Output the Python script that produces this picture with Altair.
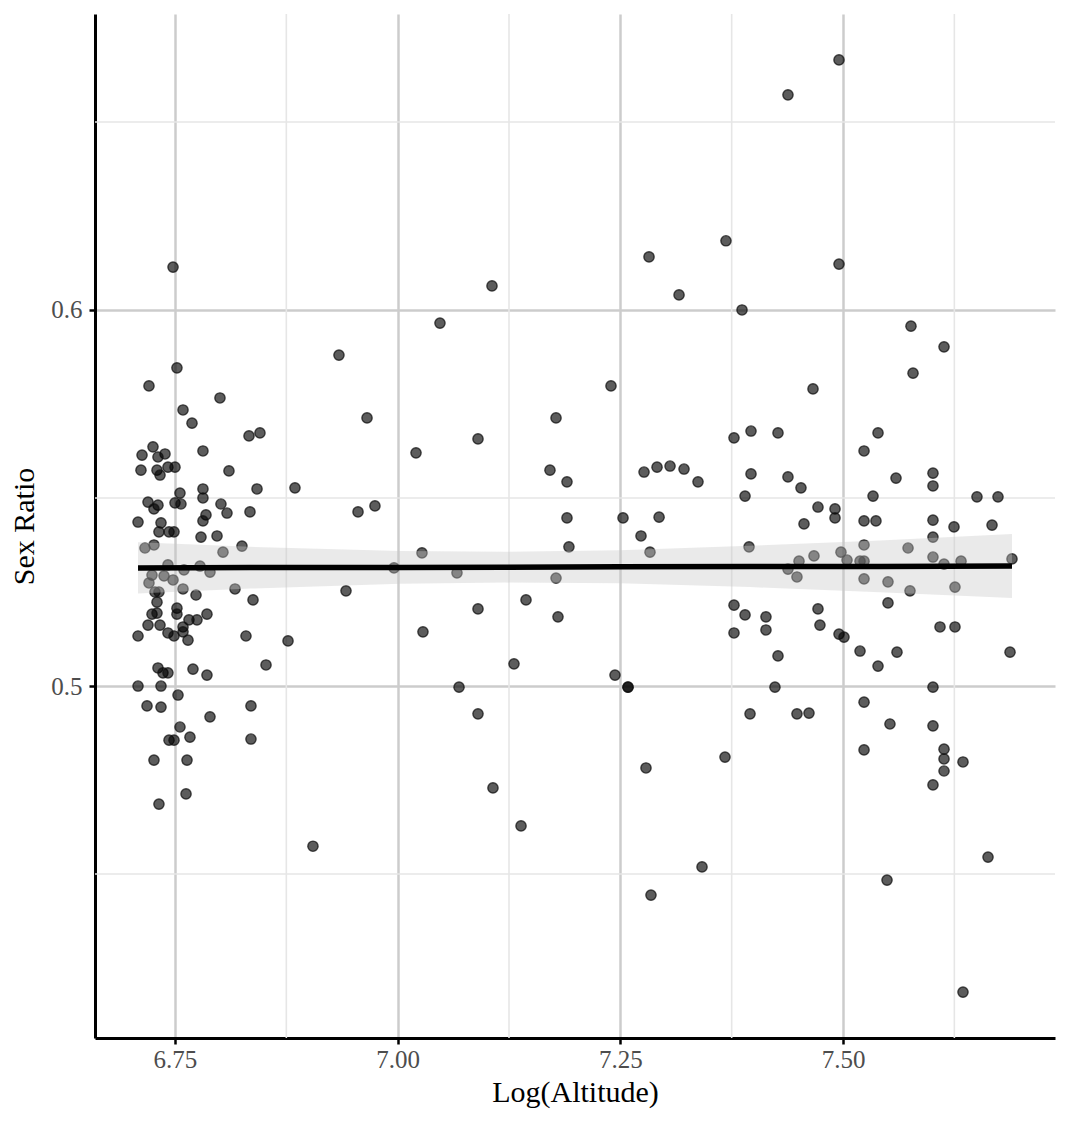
import altair as alt
import pandas as pd

# ---- data ----
log_altitude = [
    6.7522, 6.7208, 6.8005, 6.7590, 6.7691, 6.8331, 6.8454, 6.7253, 6.7130, 6.7388,
    6.7309, 6.7814, 6.7118, 6.7298, 6.7332, 6.7421, 6.7500, 6.8106, 6.7556, 6.7814,
    6.7814, 6.8421, 6.8847, 6.7197, 6.7309, 6.7264, 6.7500, 6.7567, 6.8016, 6.8084,
    6.8342, 6.7848, 6.7814, 6.7085, 6.7343, 6.7320, 6.7433, 6.7489, 6.7792, 6.7972,
    6.7163, 6.7264, 6.8039, 6.8252, 6.7421, 6.7781, 6.7601, 6.7893, 6.7242, 6.7377,
    6.7478, 6.7208, 6.7590, 6.8174, 6.7736, 6.8376, 6.7275, 6.7320, 6.7298, 6.7522,
    6.7522, 6.7242, 6.7298, 6.7859, 6.7657, 6.7747, 6.7197, 6.7332, 6.7590, 6.7590,
    6.7085, 6.7421, 6.7489, 6.7646, 6.8297, 6.8769, 6.7309, 6.7365, 6.7421, 6.7702,
    6.7859, 6.8522, 6.7085, 6.7343, 6.7534, 6.7186, 6.7343, 6.8353, 6.7893, 6.7556,
    6.7433, 6.7489, 6.7668, 6.8353, 6.7264, 6.7635, 6.7624, 6.7320, 6.7478,
    6.9049, 6.9420, 6.9341, 6.9656, 6.9555, 6.9745, 6.9959, 7.0206, 7.0273, 7.0284,
    7.0475, 7.0689, 7.0666, 7.0902, 7.0902, 7.0902, 7.1059, 7.1070, 7.1306, 7.1385,
    7.1441, 7.1710, 7.1778, 7.1778, 7.1800, 7.1901, 7.1901, 7.1923, 7.2395, 7.2440,
    7.2530, 7.2586, 7.2586, 7.2732, 7.2788, 7.2766, 7.2822, 7.2844, 7.2833, 7.2912,
    7.2935, 7.3058, 7.3159, 7.3215, 7.3372, 7.3417, 7.3686, 7.3675, 7.3776, 7.3776,
    7.3776, 7.3866, 7.3900, 7.3967, 7.3945, 7.3967, 7.3956, 7.3900, 7.4135, 7.4135,
    7.4270, 7.4270, 7.4236, 7.4382, 7.4382, 7.4382, 7.4483, 7.4506, 7.4528, 7.4483,
    7.4618, 7.4663, 7.4674, 7.4719, 7.4719, 7.4562, 7.4741, 7.4910, 7.4910, 7.4955,
    7.4955, 7.4955, 7.5011, 7.4977, 7.5045, 7.5191, 7.5236, 7.5191, 7.5236, 7.5236,
    7.5236, 7.5236, 7.5236, 7.5236, 7.5337, 7.5370, 7.5393, 7.5393, 7.5494, 7.5505,
    7.5505, 7.5527, 7.5595, 7.5606, 7.5730, 7.5752, 7.5763, 7.5786, 7.6010, 7.6010,
    7.6010, 7.6010, 7.6010, 7.6010, 7.6010, 7.6010, 7.6089, 7.6134, 7.6134, 7.6134,
    7.6134, 7.6134, 7.6246, 7.6257, 7.6257, 7.6325, 7.6347, 7.6347, 7.6504, 7.6628,
    7.6673, 7.6740, 7.6875, 7.6897,
]
sex_ratio = [
    0.5846, 0.5798, 0.5766, 0.5734, 0.5699, 0.5665, 0.5673, 0.5636, 0.5614, 0.5617,
    0.5609, 0.5625, 0.5574, 0.5574, 0.5561, 0.5582, 0.5582, 0.5572, 0.5513, 0.5524,
    0.5500, 0.5524, 0.5527, 0.5489, 0.5481, 0.5471, 0.5487, 0.5484, 0.5484, 0.5460,
    0.5463, 0.5455, 0.5439, 0.5436, 0.5434, 0.5410, 0.5410, 0.5410, 0.5396, 0.5399,
    0.5367, 0.5375, 0.5356, 0.5372, 0.5322, 0.5319, 0.5309, 0.5303, 0.5295, 0.5293,
    0.5282, 0.5274, 0.5258, 0.5258, 0.5242, 0.5229, 0.5250, 0.5250, 0.5223, 0.5207,
    0.5191, 0.5191, 0.5194, 0.5191, 0.5176, 0.5176, 0.5162, 0.5162, 0.5157, 0.5144,
    0.5133, 0.5141, 0.5133, 0.5122, 0.5133, 0.5120, 0.5048, 0.5035, 0.5035, 0.5045,
    0.5029, 0.5056, 0.5000, 0.5000, 0.4976, 0.4947, 0.4944, 0.4947, 0.4918, 0.4891,
    0.4856, 0.4856, 0.4864, 0.4859, 0.4803, 0.4803, 0.4713, 0.4686, 0.6114,
    0.4574, 0.5253, 0.5880, 0.5713, 0.5463, 0.5479, 0.5314, 0.5620, 0.5354, 0.5144,
    0.5965, 0.4997, 0.5301, 0.5657, 0.5205, 0.4926, 0.6064, 0.4729, 0.5059, 0.4628,
    0.5229, 0.5574, 0.5713, 0.5287, 0.5184, 0.5543, 0.5447, 0.5370, 0.5798, 0.5029,
    0.5447, 0.4997, 0.4997, 0.5399, 0.4782, 0.5569, 0.6141, 0.4444, 0.5356, 0.5582,
    0.5449, 0.5585, 0.6040, 0.5577, 0.5543, 0.4519, 0.6184, 0.4811, 0.5660, 0.5215,
    0.5141, 0.6000, 0.5505, 0.5678, 0.5370, 0.5564, 0.4926, 0.5189, 0.5184, 0.5149,
    0.5673, 0.5080, 0.4997, 0.5556, 0.6572, 0.5311, 0.5290, 0.5332, 0.5527, 0.4926,
    0.4928, 0.5790, 0.5346, 0.5476, 0.5205, 0.5431, 0.5162, 0.5471, 0.5447, 0.6665,
    0.6122, 0.5138, 0.5130, 0.5356, 0.5335, 0.5332, 0.5332, 0.5093, 0.5625, 0.5439,
    0.5375, 0.5285, 0.4957, 0.4830, 0.5505, 0.5439, 0.5673, 0.5053, 0.4484, 0.5277,
    0.5221, 0.4899, 0.5553, 0.5090, 0.5367, 0.5253, 0.5957, 0.5832, 0.5566, 0.5532,
    0.5441, 0.5396, 0.5343, 0.4997, 0.4894, 0.4737, 0.5157, 0.5902, 0.5324, 0.4832,
    0.4806, 0.4774, 0.5423, 0.5263, 0.5157, 0.5332, 0.4798, 0.4186, 0.5503, 0.4545,
    0.5428, 0.5503, 0.5090, 0.5338,
]

# linear fit and its confidence band, read at several x positions
smooth_x = [6.7085, 6.8342, 7.0026, 7.1205, 7.2496, 7.3956, 7.5415, 7.6897]
smooth_fit = [0.5314, 0.5315, 0.5315, 0.5316, 0.5317, 0.5318, 0.5318, 0.5319]
smooth_lo = [0.5246, 0.5259, 0.5272, 0.5275, 0.5273, 0.5263, 0.5249, 0.5234]
smooth_hi = [0.5382, 0.5370, 0.5359, 0.5357, 0.5361, 0.5373, 0.5387, 0.5404]

x_major = [6.75, 7.00, 7.25, 7.50]
x_minor = [6.875, 7.125, 7.375, 7.625]
y_major = [0.5, 0.6]
y_minor = [0.45, 0.55, 0.65]

X_DOMAIN = [6.6602, 7.738]
Y_DOMAIN = [0.4064, 0.6787]

FONT = "Liberation Serif"

pts = pd.DataFrame({"x": log_altitude, "y": sex_ratio})
sm = pd.DataFrame({"x": smooth_x, "fit": smooth_fit, "lo": smooth_lo, "hi": smooth_hi})
xm = pd.DataFrame({"v": x_minor})
ym = pd.DataFrame({"v": y_minor})

xscale = alt.Scale(domain=X_DOMAIN, nice=False, zero=False)
yscale = alt.Scale(domain=Y_DOMAIN, nice=False, zero=False)

x_axis = alt.Axis(
    values=x_major, format=".2f", title="Log(Altitude)",
    grid=True, gridColor="#cccccc", gridWidth=2.5,
    domainColor="#000000", domainWidth=3,
    tickColor="#000000", tickWidth=2.5, tickSize=6,
    labelFont=FONT, labelFontSize=25, labelColor="#4d4d4d", labelPadding=3,
    titleFont=FONT, titleFontSize=30, titleFontWeight="normal", titleColor="#000000",
    titlePadding=5,
)
y_axis = alt.Axis(
    values=y_major, format=".1f", title="Sex Ratio",
    grid=True, gridColor="#cccccc", gridWidth=2.5,
    domainColor="#000000", domainWidth=3,
    tickColor="#000000", tickWidth=2.5, tickSize=6,
    labelFont=FONT, labelFontSize=25, labelColor="#4d4d4d", labelPadding=7,
    titleFont=FONT, titleFontSize=30, titleFontWeight="normal", titleColor="#000000",
    titlePadding=11,
)


def X(field):
    return alt.X(field, scale=xscale, axis=x_axis)


def Y(field):
    return alt.Y(field, scale=yscale, axis=y_axis)


minor_x = alt.Chart(xm).mark_rule(color="#e6e6e6", strokeWidth=1.6).encode(
    x=X("v:Q")
)
minor_y = alt.Chart(ym).mark_rule(color="#e6e6e6", strokeWidth=1.6).encode(
    y=Y("v:Q")
)

points = alt.Chart(pts).mark_circle(
    size=105, fill="#000000", fillOpacity=0.64,
    stroke="#111111", strokeOpacity=0.75, strokeWidth=1.4,
).encode(
    x=X("x:Q"),
    y=Y("y:Q"),
)

band = alt.Chart(sm).mark_area(color="#c8c8c8", opacity=0.38).encode(
    x=X("x:Q"),
    y=Y("lo:Q"),
    y2="hi:Q",
)
line = alt.Chart(sm).mark_line(color="#000000", strokeWidth=5.5).encode(
    x=X("x:Q"),
    y=Y("fit:Q"),
)

chart = alt.layer(minor_x, minor_y, points, band, line).properties(
    width=960, height=1024,
    background="#ffffff",
    autosize=alt.AutoSizeParams(type="none"),
    padding={"left": 87, "top": 6, "right": 7, "bottom": 79},
).configure_view(stroke=None)

chart.save("out.html", embed_options={"renderer": "svg", "actions": False})
